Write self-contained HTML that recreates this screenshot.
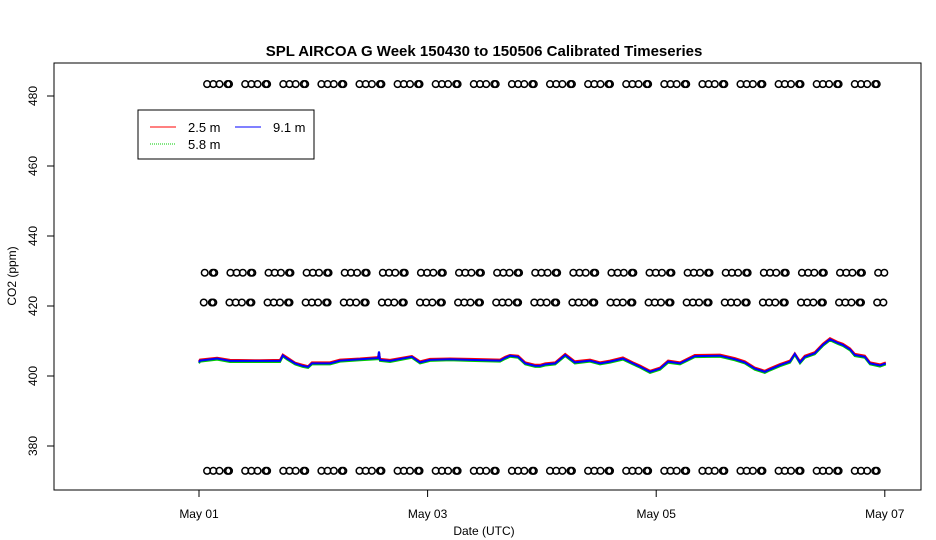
<!DOCTYPE html>
<html><head><meta charset="utf-8"><style>
html,body{margin:0;padding:0;background:#fff;width:936px;height:540px;overflow:hidden}
svg{display:block;font-family:"Liberation Sans",Arial,sans-serif}
</style></head><body>
<svg id="chart" width="936" height="540" viewBox="0 0 936 540">
<text x="484" y="56" text-anchor="middle" font-size="15" font-weight="bold">SPL AIRCOA G  Week 150430 to 150506  Calibrated Timeseries</text>
<rect x="54" y="63" width="867" height="427" fill="none" stroke="#000"/>
<g id="xaxis"></g>
<g id="yaxis"></g>
<text x="484" y="535" text-anchor="middle" font-size="12">Date (UTC)</text>
<text transform="translate(16,276) rotate(-90)" text-anchor="middle" font-size="12">CO2 (ppm)</text>
<g id="circles"></g>
<g id="lines"></g>
<g>
<rect x="138" y="110" width="176" height="49" fill="#fff" stroke="#000"/>
<g><line x1="150" y1="127" x2="176" y2="127" stroke="#f00"/><text x="188" y="132" font-size="13">2.5 m</text></g>
<g><line x1="235" y1="127" x2="261" y2="127" stroke="#00f"/><text x="273" y="132" font-size="13">9.1 m</text></g>
<g><line x1="150" y1="144" x2="176" y2="144" stroke="#0c0" stroke-dasharray="1,1"/><text x="188" y="149" font-size="13">5.8 m</text></g>
</g>
</svg>
<script>
const xTickDays=[0,2,4,6];
const xTickLabels=["May 01","May 03","May 05","May 07"];
const yTicks=[380,400,420,440,460,480];
const hours=[0,0.2,3.8,6.5,12.8,17,17.6,18.5,20.2,21.8,22.9,23.7,27.5,29.6,33.8,37.6,37.8,38,40.1,44.7,46.4,48.5,52.7,56.9,63.2,64.3,65.3,67,68.5,70.6,71.6,72.7,74.8,76.9,78.9,82.1,84.2,86.3,89,91.1,92.6,94.7,96.8,98.5,101,104.1,109.4,112.5,114.6,116.7,118.8,119.9,122,124.1,125.1,126.2,127.2,129.3,131,132.5,134.2,135.2,136.7,137.7,139.8,140.9,143,144.2];
const co2_91=[403.9,404.4,405.0,404.3,404.3,404.3,405.9,405.0,403.6,402.9,402.6,403.6,403.6,404.4,404.8,405.1,407.0,404.6,404.3,405.5,403.9,404.6,404.8,404.6,404.4,405.2,405.8,405.5,403.6,402.9,402.9,403.3,403.6,406.0,403.9,404.4,403.6,404.1,405.0,403.6,402.7,401.2,402.1,404.1,403.6,405.7,405.8,404.8,403.9,402.1,401.2,401.9,403.1,404.1,406.3,403.9,405.5,406.5,408.9,410.5,409.4,408.9,407.6,406.0,405.5,403.6,403.0,403.6];
const co2_25=[404.2,404.7,405.2,404.6,404.5,404.6,406.1,405.3,403.8,403.2,402.8,403.9,403.9,404.7,405.0,405.4,406.8,404.9,404.6,405.7,404.2,404.9,405.0,404.9,404.7,405.5,406.0,405.8,403.9,403.2,403.2,403.6,403.9,406.3,404.2,404.7,403.9,404.4,405.3,403.9,403.0,401.5,402.4,404.4,403.9,406.0,406.1,405.1,404.2,402.4,401.5,402.2,403.4,404.4,406.5,404.2,405.8,406.8,409.2,410.8,409.7,409.2,407.9,406.3,405.8,403.9,403.3,403.9];
const co2_58=[403.6,404.1,404.7,404.0,404.0,404.0,405.6,404.7,403.3,402.6,402.3,403.3,403.3,404.1,404.5,404.8,406.7,404.3,404.0,405.2,403.6,404.3,404.5,404.3,404.1,404.9,405.5,405.2,403.3,402.6,402.6,403.0,403.3,405.7,403.6,404.1,403.3,403.8,404.7,403.3,402.4,400.9,401.8,403.8,403.3,405.4,405.5,404.5,403.6,401.8,400.9,401.6,402.8,403.8,406.0,403.6,405.2,406.2,408.6,410.2,409.1,408.6,407.3,405.7,405.2,403.3,402.7,403.3];
const calLevels=[483.4,429.5,421,372.9];
const calPhase=[1.7,-1.4,-1.6,1.7];
const cycleStarts=[0,8,16,24,32,40,48,56,64,72,80,88,96,104,112,120,128,136,144];
const cycleOffsets=[0,1.3,2.6,4.3,4.6];
const NS="http://www.w3.org/2000/svg";
const x=d=>199+d*114.3;
const xh=h=>x(h/24);
const y=v=>376-(v-400)*3.5;
function mk(tag,attrs,parent){const e=document.createElementNS(NS,tag);for(const k in attrs)e.setAttribute(k,attrs[k]);parent.appendChild(e);return e;}
const xa=document.getElementById('xaxis'),ya=document.getElementById('yaxis');
mk('line',{x1:x(0),x2:x(6),y1:490,y2:490,stroke:'#000'},xa);
xTickDays.forEach((d,i)=>{
 const t=mk('line',{x1:x(d),x2:x(d),y1:490,y2:497,stroke:'#000'},xa);
 
 
 const l=mk('text',{x:x(d),y:518,'text-anchor':'middle','font-size':12},xa);l.textContent=xTickLabels[i];
 
 
});
mk('line',{x1:54,x2:54,y1:y(380),y2:y(480),stroke:'#000'},ya);
yTicks.forEach(v=>{
 const t=mk('line',{x1:47,x2:54,y1:y(v),y2:y(v),stroke:'#000'},ya);
 
 
 const l=mk('text',{transform:`translate(37,${y(v)}) rotate(-90)`,'text-anchor':'middle','font-size':12},ya);l.textContent=v;
 
 
});
const cg=document.getElementById('circles');
calLevels.forEach((lv,li)=>{
 cycleStarts.forEach(cs=>{cycleOffsets.forEach(o=>{
  const h=cs+o+calPhase[li];
  if(h<0.5||h>144.3)return;
  const c=mk('circle',{cx:xh(h),cy:y(lv),r:3.3,fill:'none',stroke:'#000','stroke-width':1.5},cg);
  
  
 });});
});
const lg=document.getElementById('lines');
[[co2_58,'#0c0'],[co2_25,'#f00'],[co2_91,'#00f']].forEach(([arr,col])=>{
 const p=mk('polyline',{points:hours.map((h,i)=>xh(h).toFixed(1)+','+y(arr[i]).toFixed(1)).join(' '),fill:'none',stroke:col,'stroke-width':2},lg);
 
 
});
</script>
</body></html>
